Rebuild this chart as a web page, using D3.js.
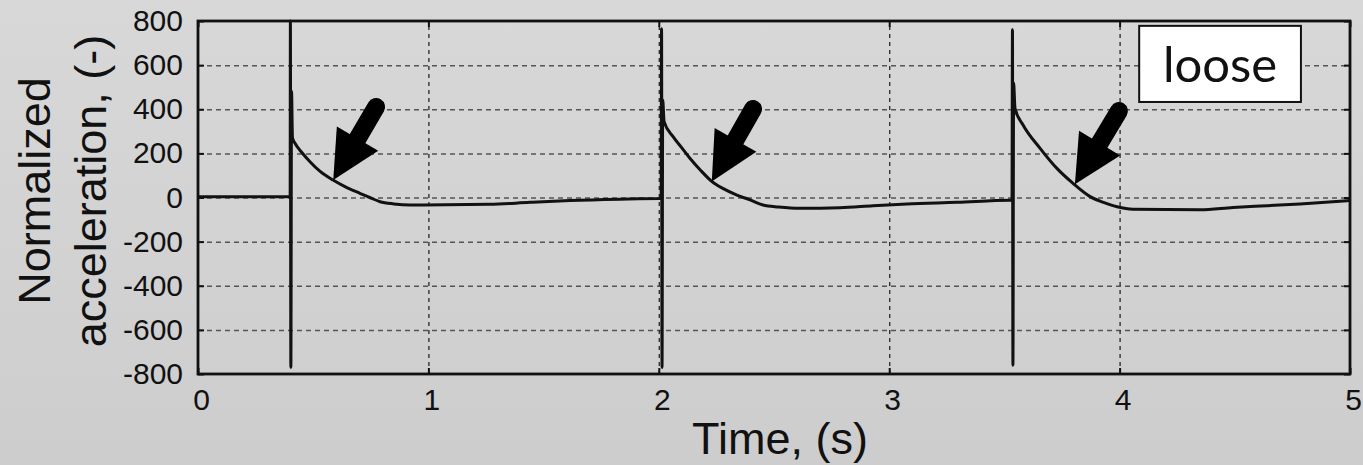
<!DOCTYPE html>
<html>
<head>
<meta charset="utf-8">
<script src="https://cdn.jsdelivr.net/npm/d3@7"></script>
<style>
    html, body { margin: 0; padding: 0; }
    body { width: 1363px; height: 465px; overflow: hidden; }
</style>
</head>
<body>
<div id="chart"></div>
<script>
// Acceleration trace (time in s, normalized acceleration)
const timeValues = [
    0, 0.400, 0.401, 0.403, 0.406, 0.410, 0.421, 0.45, 0.486, 0.53, 0.586, 0.64, 0.703, 0.745, 0.790, 0.85, 0.920,
    1.267, 1.441, 1.615, 1.832, 2.005,
    2.010, 2.012, 2.014, 2.017, 2.023, 2.062, 2.10, 2.135, 2.18, 2.231, 2.28, 2.339, 2.396, 2.452, 2.52, 2.613,
    2.786, 2.930, 3.077, 3.294, 3.524,
    3.533, 3.535, 3.537, 3.540, 3.546, 3.581, 3.655, 3.728, 3.798, 3.872, 3.93, 3.989, 4.058, 4.349,
    4.492, 4.640, 4.783, 4.924, 5.0
];
const accelValues = [
    3, 3, 800, -770, 480, 270, 246, 205, 162, 118, 79, 48, 19, 0, -19, -29, -34,
    -31, -22, -14, -8, -5,
    -5, 765, -770, 442, 344, 276, 225, 178, 125, 72, 40, 11, -11, -34, -43, -49,
    -46, -37, -29, -22, -13,
    -13, 760, -760, 519, 404, 329, 223, 132, 64, 4, -22, -42, -53, -55,
    -45, -37, -29, -19, -14
];

const xTicks = [0, 1, 2, 3, 4, 5];
const yTicks = [-800, -600, -400, -200, 0, 200, 400, 600, 800];
const xGrid = [1, 2, 3, 4];
const yGrid = [-600, -400, -200, 0, 200, 400, 600];

// arrow annotations: tip and tail in data units [time, accel]
const arrowTips = [[0.587, 79], [2.230, 72], [3.806, 60]];
const arrowTails = [[0.773, 410], [2.409, 401], [3.997, 392]];

// note box corners in data units
const noteLabel = 'loose';
const noteTime = [4.085, 4.787];
const noteAccel = [778, 433];

const totalW = 1363, totalH = 465;
const margin = {top: 21, right: 13, bottom: 91, left: 198};
const width = totalW - margin.left - margin.right;
const height = totalH - margin.top - margin.bottom;

const root = d3.select('#chart')
    .append('svg')
    .attr('width', totalW)
    .attr('height', totalH);

// grey slide-like background
const grad = root.append('defs').append('linearGradient')
    .attr('id', 'bg')
    .attr('x1', 0).attr('y1', 0).attr('x2', 0).attr('y2', 1);
grad.append('stop').attr('offset', '0%').attr('stop-color', '#d8d8d8');
grad.append('stop').attr('offset', '100%').attr('stop-color', '#cdcdcd');

root.append('rect')
    .attr('width', totalW)
    .attr('height', totalH)
    .attr('fill', 'url(#bg)');

const svg = root.append('g')
    .attr('transform', `translate(${margin.left},${margin.top})`);

const x = d3.scaleLinear().domain([0, 5]).range([0, width]);
const y = d3.scaleLinear().domain([-800, 800]).range([height, 0]);

const font = '"Liberation Sans", Arial, Helvetica, sans-serif';
const plainNum = d => String(d);   // hyphen-minus like the original

// grid lines
svg.append('g')
    .attr('class', 'grid-y')
    .call(d3.axisLeft(y).tickValues(yGrid).tickSize(-width).tickFormat(''))
    .call(g => g.select('.domain').remove())
    .selectAll('line')
    .attr('stroke', '#555')
    .attr('stroke-width', 1.5)
    .attr('stroke-dasharray', '5,4');

svg.append('g')
    .attr('class', 'grid-x')
    .attr('transform', `translate(0,${height})`)
    .call(d3.axisBottom(x).tickValues(xGrid).tickSize(-height).tickFormat(''))
    .call(g => g.select('.domain').remove())
    .selectAll('line')
    .attr('stroke', '#333')
    .attr('stroke-width', 1.4)
    .attr('stroke-dasharray', '4,4');

// data trace
const points = timeValues.map((t, i) => [t, accelValues[i]]);
svg.append('path')
    .datum(points)
    .attr('fill', 'none')
    .attr('stroke', '#111')
    .attr('stroke-width', 3)
    .attr('stroke-linejoin', 'round')
    .attr('d', d3.line().curve(d3.curveMonotoneX).x(d => x(d[0])).y(d => y(d[1])));

// inward ticks on all four sides
const tickLen = -6;
[
    {axis: d3.axisLeft(y).tickValues(yTicks), tr: 'translate(0,0)'},
    {axis: d3.axisRight(y).tickValues(yTicks), tr: `translate(${width},0)`},
    {axis: d3.axisBottom(x).tickValues(xTicks), tr: `translate(0,${height})`},
    {axis: d3.axisTop(x).tickValues(xTicks), tr: 'translate(0,0)'}
].forEach(a => {
    svg.append('g')
        .attr('transform', a.tr)
        .call(a.axis.tickSize(tickLen).tickFormat(''))
        .call(g => g.select('.domain').remove())
        .selectAll('line')
        .attr('stroke', '#111')
        .attr('stroke-width', 2);
});

// frame
svg.append('rect')
    .attr('width', width)
    .attr('height', height)
    .attr('fill', 'none')
    .attr('stroke', '#111')
    .attr('stroke-width', 2.8);

// tick labels
svg.append('g')
    .call(d3.axisLeft(y).tickValues(yTicks).tickSize(0).tickPadding(15).tickFormat(plainNum))
    .call(g => g.select('.domain').remove())
    .selectAll('text')
    .attr('fill', '#111')
    .style('font-family', font)
    .style('font-size', '30px');

svg.append('g')
    .attr('transform', `translate(3,${height})`)
    .call(d3.axisBottom(x).tickValues(xTicks).tickSize(0).tickPadding(15).tickFormat(plainNum))
    .call(g => g.select('.domain').remove())
    .selectAll('text')
    .attr('fill', '#111')
    .style('font-family', font)
    .style('font-size', '30px');

// axis titles
svg.append('text')
    .attr('x', 780 - margin.left)
    .attr('y', 454 - margin.top)
    .attr('text-anchor', 'middle')
    .attr('fill', '#111')
    .style('font-family', font)
    .style('font-size', '45px')
    .text('Time, (s)');

['Normalized', 'acceleration, (-)'].forEach((line, i) => {
    svg.append('text')
        .attr('transform', `translate(${50 + i * 56 - margin.left},${191 - margin.top}) rotate(-90)`)
        .attr('text-anchor', 'middle')
        .attr('fill', '#111')
        .style('font-family', font)
        .style('font-size', '45px')
        .text(line);
});

// arrows
const headLen = 48, headHalf = 24;
arrowTips.forEach((tip, i) => {
    const tail = arrowTails[i];
    const x1 = x(tail[0]), y1 = y(tail[1]);
    const x2 = x(tip[0]), y2 = y(tip[1]);
    const len = Math.hypot(x2 - x1, y2 - y1);
    const ux = (x2 - x1) / len, uy = (y2 - y1) / len;
    const bx = x2 - ux * headLen, by = y2 - uy * headLen;

    svg.append('line')
        .attr('x1', x1).attr('y1', y1)
        .attr('x2', bx + ux * 4).attr('y2', by + uy * 4)
        .attr('stroke', '#000')
        .attr('stroke-width', 18)
        .attr('stroke-linecap', 'round');

    svg.append('polygon')
        .attr('points', [
            [x2, y2],
            [bx - uy * headHalf, by + ux * headHalf],
            [bx + uy * headHalf, by - ux * headHalf]
        ].map(p => p.join(',')).join(' '))
        .attr('fill', '#000');
});

// note box
svg.append('rect')
    .attr('x', x(noteTime[0]))
    .attr('y', y(noteAccel[0]))
    .attr('width', x(noteTime[1]) - x(noteTime[0]))
    .attr('height', y(noteAccel[1]) - y(noteAccel[0]))
    .attr('fill', '#fff')
    .attr('stroke', '#111')
    .attr('stroke-width', 2);

svg.append('text')
    .attr('x', (x(noteTime[0]) + x(noteTime[1])) / 2)
    .attr('y', 82 - margin.top)
    .attr('text-anchor', 'middle')
    .attr('fill', '#111')
    .style('font-family', 'Lato, "Noto Sans", sans-serif')
    .style('font-size', '49px')
    .text(noteLabel);
</script>
</body>
</html>
